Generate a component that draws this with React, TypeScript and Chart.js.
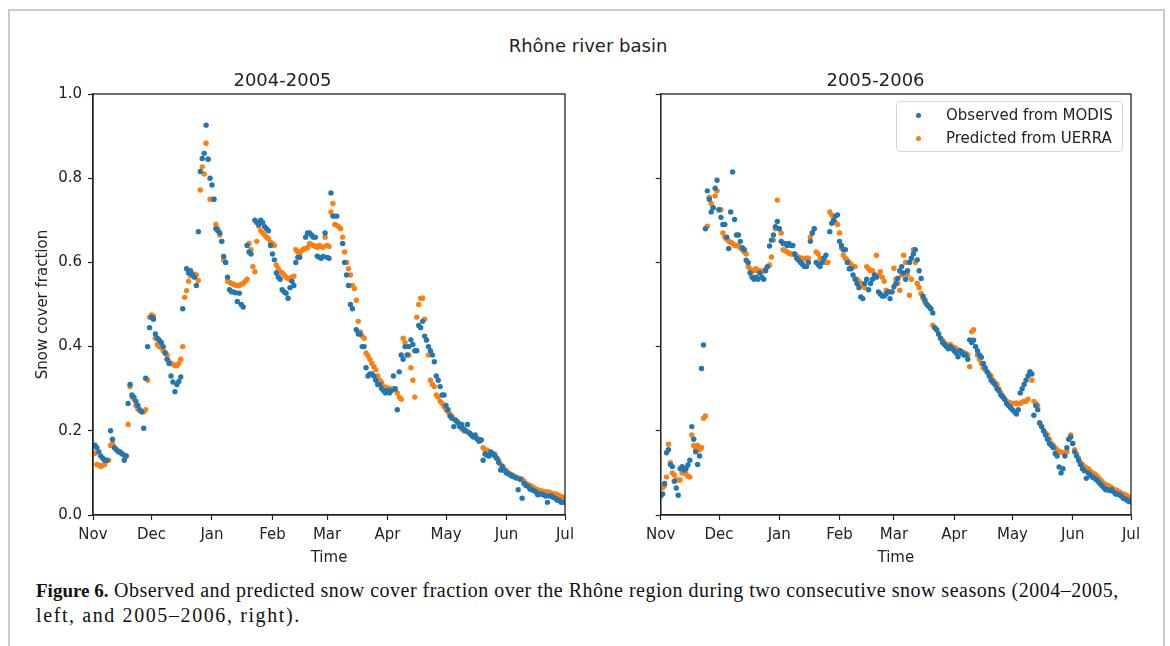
import React, { useEffect, useRef } from 'react';
import { Chart, registerables } from 'chart.js';
Chart.register(...registerables);

// ---- Data (day index 0 = 1 Nov, one value per day, null = no observation) ----
const monthStarts = [0, 30, 61, 92, 120, 151, 181, 212, 242];
const monthLabels = ['Nov', 'Dec', 'Jan', 'Feb', 'Mar', 'Apr', 'May', 'Jun', 'Jul'];
const yTickValues = [0, 0.2, 0.4, 0.6, 0.8, 1.0];
const seriesNames = ['Observed from MODIS', 'Predicted from UERRA'];
const seriesColors = ['#1f77b4', '#ff7f0e'];
const panelTitles = ['2004-2005', '2005-2006'];

const observed0405 = [
  0.165, 0.166, 0.16, 0.15, 0.14, 0.135, 0.13, 0.13, null, 0.2,
  0.18, 0.16, 0.155, 0.15, 0.15, 0.145, 0.13, 0.14, 0.265, 0.31,
  0.285, 0.28, 0.27, 0.26, 0.25, 0.245, 0.206, 0.325, 0.4, 0.445,
  0.47, 0.465, 0.43, 0.42, 0.415, 0.41, 0.4, 0.385, 0.37, 0.36,
  0.33, 0.316, 0.293, 0.31, 0.317, 0.328, 0.49, null, 0.585, 0.575,
  0.58, 0.57, 0.565, 0.545, 0.673, 0.816, 0.847, 0.859, 0.926, 0.845,
  0.8, 0.784, 0.75, 0.68, 0.675, 0.67, 0.65, 0.614, 0.6, 0.565,
  0.535, 0.53, 0.53, 0.528, 0.507, 0.527, 0.5, 0.494, null, 0.64,
  0.625, 0.62, null, 0.7, 0.695, 0.69, 0.7, 0.695, 0.685, 0.68,
  0.675, 0.64, 0.62, 0.606, 0.575, 0.565, 0.56, 0.535, 0.53, 0.527,
  0.515, 0.54, 0.555, 0.545, 0.6, 0.612, 0.612, null, null, 0.66,
  0.67, 0.67, 0.665, 0.66, 0.66, 0.615, 0.612, 0.61, 0.614, 0.67,
  0.612, 0.61, 0.765, 0.71, 0.71, 0.71, null, null, 0.645, 0.6,
  0.57, 0.545, 0.5, 0.49, null, 0.44, 0.43, 0.43, 0.4, 0.4,
  0.35, 0.33, 0.335, 0.335, 0.33, 0.32, 0.31, 0.31, 0.3, 0.295,
  0.29, 0.295, 0.29, 0.295, 0.33, 0.3, 0.25, 0.34, 0.38, 0.37,
  0.4, 0.38, 0.4, 0.416, 0.405, 0.39, 0.39, 0.45, 0.445, 0.46,
  0.425, 0.416, 0.4, 0.39, 0.38, 0.364, 0.33, 0.32, 0.305, 0.285,
  0.285, 0.26, 0.25, 0.235, 0.23, 0.21, 0.225, 0.22, 0.21, 0.215,
  0.205, 0.2, 0.215, 0.195, 0.19, 0.185, 0.19, 0.18, 0.175, 0.178,
  0.13, 0.145, 0.142, 0.14, 0.15, 0.145, 0.14, 0.135, 0.125, 0.107,
  0.115, 0.105, 0.1, 0.098, 0.095, 0.092, 0.09, 0.088, 0.06, 0.085,
  0.04, 0.075, 0.07, 0.068, 0.062, 0.06, 0.058, 0.055, 0.048, 0.05,
  0.05, 0.048, 0.045, 0.03, 0.045, 0.045, 0.042, 0.04, 0.035, 0.035,
  0.03, 0.03,
];

const predicted0405 = [
  0.148, 0.146, 0.12, 0.118, 0.115, 0.118, 0.12, 0.128, 0.13, 0.165,
  0.17, 0.16, 0.155, 0.152, 0.148, 0.145, 0.142, 0.14, 0.215, 0.305,
  0.28, 0.275, 0.26, 0.252, 0.248, 0.245, 0.245, 0.25, 0.32, 0.47,
  0.475, 0.472, 0.42, 0.405, 0.4, 0.398, 0.39, 0.385, 0.38, 0.365,
  0.36, 0.358, 0.355, 0.355, 0.36, 0.37, 0.4, 0.517, 0.533, 0.555,
  0.568, 0.572, 0.572, 0.57, 0.557, 0.772, 0.827, 0.81, 0.883, 0.845,
  0.75, 0.75, 0.75, 0.69, 0.68, 0.665, 0.65, 0.605, 0.6, 0.555,
  0.553, 0.55, 0.548, 0.546, 0.545, 0.545, 0.548, 0.55, 0.555, 0.56,
  0.645, 0.63, 0.59, 0.578, 0.65, 0.686, 0.675, 0.67, 0.665, 0.66,
  0.656, 0.648, 0.645, 0.64, 0.594, 0.585, 0.578, 0.575, 0.57, 0.565,
  0.562, 0.56, 0.565, 0.567, 0.63, 0.625, 0.62, 0.628, 0.632, 0.633,
  0.635, 0.645, 0.642, 0.64, 0.638, 0.636, 0.64, 0.638, 0.636, 0.66,
  0.64, 0.638, 0.72, 0.74, 0.69, 0.688, 0.685, 0.68, 0.66, 0.625,
  0.6, 0.585, 0.57, 0.545, 0.538, 0.51, 0.46, 0.435, 0.425, 0.42,
  0.385, 0.378, 0.37, 0.36, 0.352, 0.345, 0.33, 0.32, 0.315, 0.305,
  0.303, 0.302, 0.3, 0.3, 0.3, 0.298, 0.29, 0.28, 0.275, 0.42,
  0.41, 0.4, 0.38, 0.35, 0.32, 0.28, 0.47, 0.5, 0.515, 0.515,
  0.465, 0.415, 0.38, 0.32, 0.31, 0.305, 0.285, 0.28, 0.27, 0.265,
  0.257, 0.25, 0.245, 0.24, 0.235, 0.228, 0.225, 0.22, 0.21, 0.205,
  0.2, 0.2, 0.198, 0.195, 0.19, 0.188, 0.185, 0.182, 0.18, 0.178,
  0.16, 0.155, 0.154, 0.15, 0.148, 0.146, 0.145, 0.135, 0.13, 0.12,
  0.115, 0.108, 0.105, 0.1, 0.097, 0.095, 0.092, 0.09, 0.088, 0.086,
  0.085, 0.08, 0.075, 0.072, 0.07, 0.068, 0.065, 0.062, 0.06, 0.058,
  0.057, 0.056, 0.055, 0.055, 0.054, 0.052, 0.05, 0.05, 0.048, 0.046,
  0.044, 0.042,
];

const observed0506 = [
  0.045, 0.05, 0.075, 0.148, 0.155, 0.12, 0.115, 0.08, 0.064, 0.047,
  0.11, 0.115, 0.107, 0.11, 0.119, 0.13, 0.21, 0.18, 0.15, 0.12,
  0.14, 0.348, 0.404, 0.68, 0.77, 0.75, 0.72, 0.73, 0.776, 0.795,
  0.725, 0.707, 0.69, 0.69, 0.66, 0.633, 0.72, 0.815, 0.702, 0.665,
  0.665, 0.65, 0.635, 0.63, 0.605, 0.6, 0.575, 0.565, 0.56, 0.565,
  0.56, 0.575, 0.565, 0.56, 0.58, 0.59, 0.639, 0.653, 0.665, 0.685,
  0.697, 0.68, 0.65, 0.645, 0.645, 0.64, 0.645, 0.64, 0.64, 0.62,
  0.61, 0.605, 0.6, 0.595, 0.59, 0.59, 0.6, 0.65, 0.67, 0.68,
  0.6, 0.595, 0.59, 0.6, 0.61, 0.617, null, 0.673, 0.693, 0.7,
  0.71, 0.713, 0.65, 0.64, 0.63, 0.63, 0.6, 0.585, 0.585, 0.57,
  0.56, 0.55, 0.54, 0.518, 0.514, 0.55, 0.56, 0.535, 0.55, 0.56,
  0.57, 0.565, 0.53, 0.525, 0.52, 0.52, 0.525, 0.53, 0.514, 0.53,
  0.542, 0.55, 0.562, 0.58, 0.59, 0.575, 0.56, 0.58, 0.6, 0.61,
  0.62, 0.63, 0.606, 0.58, 0.562, 0.52, 0.51, 0.5, 0.495, 0.49,
  0.48, 0.445, 0.44, 0.43, 0.42, 0.41, 0.405, 0.4, 0.395, 0.4,
  0.395, 0.39, 0.385, 0.376, 0.39, 0.385, 0.38, 0.38, 0.37, 0.416,
  0.41, 0.415, 0.4, 0.39, 0.38, 0.375, 0.36, 0.35, 0.34, 0.33,
  0.32, 0.315, 0.31, 0.3, 0.295, 0.285, 0.28, 0.275, 0.265, 0.26,
  0.255, 0.25, 0.245, 0.24, 0.25, 0.29, 0.3, 0.31, 0.32, 0.33,
  0.34, 0.335, 0.237, 0.26, 0.25, 0.218, 0.21, 0.2, 0.19, 0.18,
  0.17, 0.165, 0.16, 0.146, 0.14, 0.114, 0.1, 0.11, 0.14, 0.16,
  0.18, 0.185, 0.17, 0.15, 0.14, 0.13, 0.12, 0.11, 0.105, 0.087,
  0.1, 0.095, 0.09, 0.088, 0.085, 0.08, 0.075, 0.07, 0.065, 0.06,
  0.06, 0.058, 0.06, 0.055, 0.05, 0.05, 0.048, 0.045, 0.04, 0.038,
  0.035, 0.032,
];

const predicted0506 = [
  0.065, 0.065, 0.07, 0.09, 0.168, 0.124, 0.1, 0.095, 0.083, 0.083,
  0.083, 0.1, 0.1, 0.098, 0.092, 0.09, 0.19, 0.165, 0.155, 0.165,
  0.155, 0.16, 0.23, 0.235, 0.686, 0.755, 0.74, 0.73, 0.758, 0.77,
  0.725, 0.725, 0.67, 0.66, 0.655, 0.65, 0.648, 0.645, 0.64, 0.64,
  0.64, 0.635, 0.63, 0.625, 0.62, 0.59, 0.585, 0.58, 0.58, 0.585,
  0.58, 0.58, 0.578, 0.58, 0.585, 0.59, 0.594, 0.613, 0.653, 0.68,
  0.748, 0.68, 0.67, 0.63, 0.628, 0.625, 0.622, 0.62, 0.62, 0.618,
  0.615, 0.612, 0.61, 0.61, 0.608, 0.61, 0.61, 0.66, 0.67, 0.68,
  0.625, 0.62, 0.61, 0.605, 0.6, 0.6, 0.6, 0.72, 0.713, 0.705,
  0.695, 0.69, 0.67, 0.634, 0.617, 0.61, 0.605, 0.6, 0.595, 0.59,
  0.59, 0.56, 0.555, 0.55, 0.545, 0.54, 0.59, 0.585, 0.58, 0.58,
  0.57, 0.617, 0.57, 0.578, 0.565, 0.555, 0.534, 0.53, 0.53, 0.53,
  0.586, 0.56, 0.55, 0.534, 0.57, 0.617, 0.6, 0.57, 0.522, 0.56,
  0.63, 0.6, 0.55, 0.54, 0.526, 0.515, 0.505, 0.5, 0.495, 0.49,
  0.451, 0.445, 0.44, 0.43, 0.42, 0.415, 0.41, 0.405, 0.4, 0.405,
  0.4, 0.398, 0.395, 0.392, 0.39, 0.388, 0.386, 0.384, 0.38, 0.352,
  0.435, 0.44, 0.4, 0.38, 0.37, 0.36, 0.35, 0.345, 0.34, 0.335,
  0.33, 0.32, 0.315, 0.31, 0.3, 0.29, 0.283, 0.275, 0.27, 0.268,
  0.266, 0.265, 0.265, 0.266, 0.264, 0.265, 0.268, 0.27, 0.27, 0.275,
  0.34, 0.32, 0.27, 0.265, 0.26, 0.22, 0.21, 0.2, 0.195, 0.19,
  0.18, 0.17, 0.165, 0.16, 0.155, 0.15, 0.15, 0.148, 0.148, 0.15,
  0.18, 0.19, 0.17, 0.155, 0.145, 0.135, 0.125, 0.12, 0.115, 0.112,
  0.11, 0.105, 0.1, 0.098, 0.095, 0.09, 0.085, 0.08, 0.075, 0.072,
  0.07, 0.068, 0.065, 0.062, 0.06, 0.058, 0.055, 0.052, 0.05, 0.048,
  0.045, 0.042,
];

const FONT = "'DejaVu Sans', sans-serif";
const TEXT = '#222222';

const toPoints = (vals: (number | null)[]) =>
  vals.map((v, i) => (v === null ? null : { x: i, y: v })).filter((p) => p !== null) as { x: number; y: number }[];

const framePlugin = {
  id: 'frame',
  afterDraw(chart: any) {
    const { ctx, chartArea } = chart;
    ctx.save();
    ctx.strokeStyle = TEXT;
    ctx.lineWidth = 1.3;
    ctx.strokeRect(chartArea.left, chartArea.top, chartArea.right - chartArea.left, chartArea.bottom - chartArea.top);
    ctx.restore();
  },
};

function makeConfig(obs: (number | null)[], pred: (number | null)[], title: string, showY: boolean, yWidth: number, padRight: number, height: number): any {
  const tickGrid = { display: true, drawOnChartArea: false, drawTicks: true, tickLength: 5, tickColor: TEXT, tickWidth: 1.2 };
  const border = { display: true, color: TEXT, width: 1.3 };
  return {
    type: 'scatter',
    data: {
      datasets: [
        { label: seriesNames[0], data: toPoints(obs), backgroundColor: seriesColors[0], borderWidth: 0, pointRadius: 2.7, pointHoverRadius: 2.7 },
        { label: seriesNames[1], data: toPoints(pred), backgroundColor: seriesColors[1], borderWidth: 0, pointRadius: 2.7, pointHoverRadius: 2.7 },
      ],
    },
    options: {
      animation: false,
      responsive: false,
      events: [],
      layout: { padding: { top: 70.5, right: padRight, bottom: 0, left: 0 } },
      plugins: {
        legend: { display: false },
        tooltip: { enabled: false },
        title: { display: true, text: title, color: TEXT, font: { family: FONT, size: 18, weight: 'normal' }, padding: { top: 0, bottom: 1.9 } },
      },
      scales: {
        x: {
          type: 'linear',
          min: monthStarts[0],
          max: monthStarts[monthStarts.length - 1],
          afterBuildTicks: (s: any) => { s.ticks = monthStarts.map((v) => ({ value: v })); },
          ticks: {
            autoSkip: false, maxRotation: 0, padding: 6, color: TEXT, font: { family: FONT, size: 15 },
            callback: (v: number) => monthLabels[monthStarts.indexOf(v)] ?? '',
          },
          grid: tickGrid,
          border,
          title: { display: true, text: 'Time', color: TEXT, font: { family: FONT, size: 15 }, padding: { top: 0, bottom: 7.6 } },
          afterFit: (s: any) => { s.height = height - 515; },
        },
        y: {
          type: 'linear',
          min: 0,
          max: 1,
          afterBuildTicks: (s: any) => { s.ticks = yTickValues.map((v) => ({ value: v })); },
          ticks: {
            padding: 6, color: TEXT, font: { family: FONT, size: 15 },
            callback: (v: number) => (showY ? Number(v).toFixed(1) : ''),
          },
          grid: tickGrid,
          border,
          title: { display: showY, text: 'Snow cover fraction', color: TEXT, font: { family: FONT, size: 15 }, padding: { top: 34, bottom: 0 } },
          afterFit: (s: any) => { s.width = yWidth; },
        },
      },
    },
    plugins: [framePlugin],
  };
}

function Panel(props: { left: number; width: number; height: number; obs: (number | null)[]; pred: (number | null)[]; title: string; showY: boolean; yWidth: number; padRight: number }) {
  const ref = useRef<HTMLCanvasElement | null>(null);
  useEffect(() => {
    if (!ref.current) return;
    const chart = new Chart(ref.current, makeConfig(props.obs, props.pred, props.title, props.showY, props.yWidth, props.padRight, props.height));
    return () => chart.destroy();
  }, []);
  return (
    <canvas
      ref={ref}
      width={props.width}
      height={props.height}
      style={{ position: 'absolute', left: props.left, top: 0, width: props.width, height: props.height }}
    />
  );
}

export default function App() {
  const H = 575;
  return (
    <div style={{ position: 'absolute', left: 0, top: 0, width: 1170, height: 646, overflow: 'hidden', background: '#fff' }}>
      <div style={{ position: 'absolute', left: 8, top: 9, width: 1153, height: 700, border: '2px solid #cccccc' }} />
      <div style={{ position: 'absolute', left: 0, width: 1176, top: 35, textAlign: 'center', fontFamily: FONT, fontSize: 18, lineHeight: '22px', color: TEXT }}>
        Rhône river basin
      </div>
      <Panel left={0} width={620} height={H} obs={observed0405} pred={predicted0405} title={panelTitles[0]} showY={true} yWidth={93} padRight={55} />
      <Panel left={620} width={550} height={H} obs={observed0506} pred={predicted0506} title={panelTitles[1]} showY={false} yWidth={40.7} padRight={39} />
      <div style={{ position: 'absolute', left: 896, top: 101, width: 225, height: 49, border: '1px solid #d5d5d5', borderRadius: 4, background: 'rgba(255,255,255,0.85)', fontFamily: FONT, fontSize: 15, color: TEXT }}>
        {seriesNames.map((name, i) => (
          <div key={name} style={{ position: 'absolute', left: 0, top: 3 + i * 23, height: 20, lineHeight: '20px', whiteSpace: 'nowrap' }}>
            <span style={{ position: 'absolute', left: 19, top: 7.5, width: 5, height: 5, borderRadius: '50%', background: seriesColors[i] }} />
            <span style={{ position: 'absolute', left: 49 }}>{name}</span>
          </div>
        ))}
      </div>
      <div style={{ position: 'absolute', left: 36, top: 578, width: 1130, fontFamily: "'Liberation Serif', serif", fontSize: 20, lineHeight: '24px', color: '#111', whiteSpace: 'nowrap' }}>
        <div>
          <b style={{ fontSize: 19 }}>Figure 6.</b>
          <span style={{ letterSpacing: '0.5px' }}> Observed and predicted snow cover fraction over the Rhône region during two consecutive snow seasons (2004–2005,</span>
        </div>
        <div style={{ letterSpacing: '1.6px' }}>left, and 2005–2006, right).</div>
      </div>
    </div>
  );
}
